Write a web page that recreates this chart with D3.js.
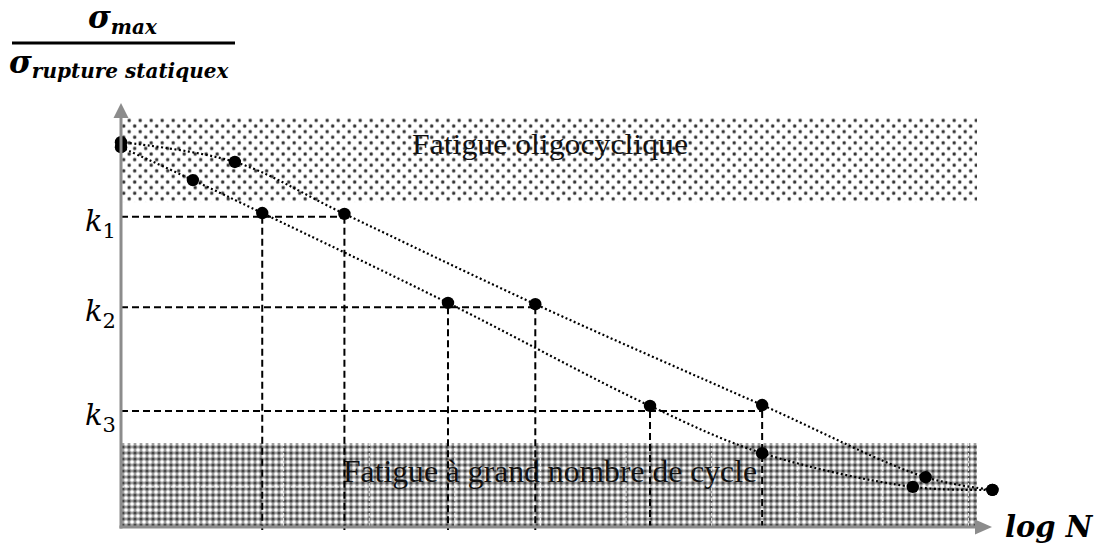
<!DOCTYPE html>
<html>
<head>
<meta charset="utf-8">
<script src="https://cdn.jsdelivr.net/npm/d3@7"></script>
<style>
  html, body { margin: 0; padding: 0; background: #fff; }
  svg { display: block; }
</style>
</head>
<body>
<svg id="chart" width="1097" height="545"></svg>
<script>
// ---------------- data ----------------
// x = log N (arbitrary units), y = sigma_max / sigma_rupture statique
const upperX = [0, 1.33, 2.61, 4.84, 7.49, 9.40, 10.18];
const upperY = [0.912, 0.865, 0.742, 0.528, 0.289, 0.118, 0.088];
const lowerX = [0, 0.84, 1.65, 3.82, 6.18, 7.49, 9.25, 10.18];
const lowerY = [0.900, 0.822, 0.744, 0.531, 0.287, 0.175, 0.095, 0.088];

const kNames = ["1", "2", "3"];
const kLevels = [0.735, 0.521, 0.275];
const kLowerX = [1.65, 3.82, 6.18];
const kUpperX = [2.61, 4.84, 7.49];

const bandNames = ["Fatigue oligocyclique", "Fatigue à grand nombre de cycle"];
const bandLow = [0.770, 0.0];
const bandHigh = [0.969, 0.199];
const bandTextY = [0.884, 0.107];

const gridX = [0.9, 1.9, 2.9, 3.9, 4.9, 5.9, 6.9, 7.9, 8.9, 9.9];
const gridY = [0.095];

const xDomain = [0, 10];
const yDomain = [0, 1];

// ---------------- setup ----------------
const svg = d3.select("#chart");
const x = d3.scaleLinear().domain(xDomain).range([121, 977]);
const y = d3.scaleLinear().domain(yDomain).range([527, 105]);

const defs = svg.append("defs");
// light dotted pattern (top band)
const pDots = defs.append("pattern").attr("id", "dots")
  .attr("patternUnits", "userSpaceOnUse").attr("width", 11).attr("height", 11.2);
pDots.append("rect").attr("width", 11).attr("height", 11.2).attr("fill", "#fff");
[[2.7, 2.8], [8.2, 8.4]].forEach(([cx, cy]) => {
  pDots.append("circle").attr("cx", cx).attr("cy", cy).attr("r", 2.1).attr("fill", "#aaa");
  pDots.append("circle").attr("cx", cx).attr("cy", cy).attr("r", 1.4).attr("fill", "#333");
});
// checker pattern (bottom band)
const pChk = defs.append("pattern").attr("id", "chk")
  .attr("patternUnits", "userSpaceOnUse").attr("width", 6).attr("height", 6);
pChk.append("rect").attr("width", 6).attr("height", 6).attr("fill", "#a0a0a0");
[[0, 0], [6, 0], [0, 6], [6, 6]].forEach(([cx, cy]) => {
  pChk.append("circle").attr("cx", cx).attr("cy", cy).attr("r", 1.8).attr("fill", "#fff");
});
pChk.append("circle").attr("cx", 3).attr("cy", 3).attr("r", 1.6).attr("fill", "#444");

// ---------------- bands ----------------
const bandFill = ["url(#dots)", "url(#chk)"];
svg.append("g").selectAll("rect").data(bandNames).join("rect")
  .attr("x", x(xDomain[0]))
  .attr("y", (d, i) => y(bandHigh[i]))
  .attr("width", x(xDomain[1]) - x(xDomain[0]))
  .attr("height", (d, i) => y(bandLow[i]) - y(bandHigh[i]))
  .attr("fill", (d, i) => bandFill[i]);

// faint white grid inside the lower band
const grid = svg.append("g").attr("stroke", "#fff").attr("stroke-width", 1)
  .attr("stroke-dasharray", "3,2").attr("opacity", 0.85);
grid.selectAll("line.gx").data(gridX).join("line").attr("class", "gx")
  .attr("x1", d => x(d)).attr("x2", d => x(d))
  .attr("y1", y(bandHigh[1])).attr("y2", y(bandLow[1]));
grid.selectAll("line.gy").data(gridY).join("line").attr("class", "gy")
  .attr("x1", x(xDomain[0])).attr("x2", x(xDomain[1]))
  .attr("y1", d => y(d)).attr("y2", d => y(d));

// band texts
const bandFont = [29, 32];
const bandLen = [276, 414];
svg.append("g").selectAll("text").data(bandNames).join("text")
  .attr("x", (d, i) => (x(xDomain[0]) + x(xDomain[1])) / 2 - bandLen[i] / 2 + 1)
  .attr("y", (d, i) => y(bandTextY[i]))
  .attr("font-family", "'Liberation Serif', 'Times New Roman', serif")
  .attr("font-size", (d, i) => bandFont[i])
  .attr("textLength", (d, i) => bandLen[i])
  .attr("lengthAdjust", "spacingAndGlyphs")
  .attr("fill", "#111")
  .text(d => d);

// ---------------- k guide lines ----------------
const guides = svg.append("g").attr("stroke", "#000").attr("stroke-width", 2)
  .attr("stroke-dasharray", "7,4").attr("fill", "none");
guides.selectAll("line.h").data(kLevels).join("line").attr("class", "h")
  .attr("x1", x(xDomain[0])).attr("x2", (d, i) => x(kUpperX[i]))
  .attr("y1", d => y(d)).attr("y2", d => y(d));
guides.selectAll("line.vl").data(kLevels).join("line").attr("class", "vl")
  .attr("x1", (d, i) => x(kLowerX[i])).attr("x2", (d, i) => x(kLowerX[i]))
  .attr("y1", d => y(d)).attr("y2", y(yDomain[0]) + 3);
guides.selectAll("line.vu").data(kLevels).join("line").attr("class", "vu")
  .attr("x1", (d, i) => x(kUpperX[i])).attr("x2", (d, i) => x(kUpperX[i]))
  .attr("y1", d => y(d)).attr("y2", y(yDomain[0]) + 3);

// k labels
const kl = svg.append("g").selectAll("text").data(kNames).join("text")
  .attr("x", 85)
  .attr("y", (d, i) => y(kLevels[i]) + 14)
  .attr("font-family", "'DejaVu Serif', serif")
  .attr("fill", "#000");
kl.append("tspan").attr("font-style", "italic").attr("font-size", 29).text("k");
kl.append("tspan").attr("font-size", 21).attr("dy", 7).attr("dx", 0).text(d => d);

// ---------------- curves ----------------
const upper = upperX.map((v, i) => [v, upperY[i]]);
const lower = lowerX.map((v, i) => [v, lowerY[i]]);
const line = d3.line().x(d => x(d[0])).y(d => y(d[1])).curve(d3.curveCatmullRom.alpha(0.5));
svg.append("g").selectAll("path").data([upper, lower]).join("path")
  .attr("d", line)
  .attr("fill", "none").attr("stroke", "#000").attr("stroke-width", 2.2)
  .attr("stroke-dasharray", "2,2.5");

svg.append("g").selectAll("circle").data(upper.concat(lower)).join("circle")
  .attr("cx", d => x(d[0])).attr("cy", d => y(d[1])).attr("r", 6.2).attr("fill", "#000");

// ---------------- axes ----------------
const axisColor = "#8c8c8c";
const ax = svg.append("g");
const x0 = x(xDomain[0]), y0 = y(yDomain[0]);
const yTop = y(yDomain[1]);
const xEnd = x(xDomain[1]);
ax.append("line").attr("x1", x0).attr("x2", x0).attr("y1", y0 + 1.5).attr("y2", yTop + 12)
  .attr("stroke", axisColor).attr("stroke-width", 3);
ax.append("path").attr("d", d3.line()([[x0 - 7.5, yTop + 13], [x0 + 7.5, yTop + 13], [x0, yTop - 2]]) + "Z")
  .attr("fill", axisColor);
ax.append("line").attr("x1", x0 - 1.5).attr("x2", xEnd).attr("y1", y0).attr("y2", y0)
  .attr("stroke", axisColor).attr("stroke-width", 3);
ax.append("path").attr("d", d3.line()([[xEnd - 2, y0 - 7.5], [xEnd - 2, y0 + 7.5], [xEnd + 15, y0]]) + "Z")
  .attr("fill", axisColor);

// ---------------- axis titles ----------------
const bi = "'DejaVu Serif', serif";
const t1 = svg.append("text").attr("x", 88).attr("y", 28).attr("font-family", bi)
  .attr("font-weight", "bold").attr("font-style", "italic").attr("fill", "#000");
t1.append("tspan").attr("font-size", 31).text("σ");
t1.append("tspan").attr("font-size", 20).attr("dy", 6).text("max");
svg.append("line").attr("x1", 12).attr("x2", 235).attr("y1", 43).attr("y2", 43)
  .attr("stroke", "#000").attr("stroke-width", 3);
const t2 = svg.append("text").attr("x", 9).attr("y", 73).attr("font-family", bi)
  .attr("font-weight", "bold").attr("font-style", "italic").attr("fill", "#000");
t2.append("tspan").attr("font-size", 31).text("σ");
t2.append("tspan").attr("font-size", 20).attr("dy", 5).text("rupture statiquex");

svg.append("text").attr("x", 1005).attr("y", 537).attr("font-family", bi)
  .attr("font-weight", "bold").attr("font-style", "italic").attr("font-size", 29)
  .attr("fill", "#000").text("log N");
</script>
</body>
</html>
